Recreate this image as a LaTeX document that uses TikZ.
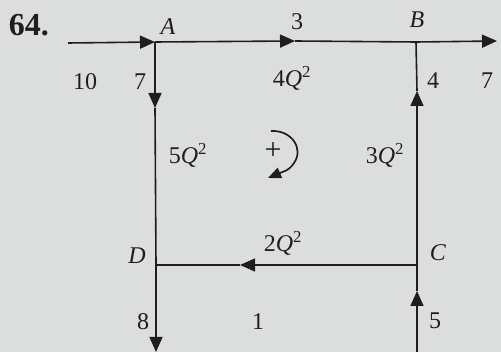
\documentclass[tikz,border=0pt]{standalone}
\usepackage{fontspec}
\setmainfont{Liberation Serif}
\usetikzlibrary{arrows.meta}
\definecolor{bg}{RGB}{220,222,222}
\definecolor{ink}{RGB}{30,30,30}
\begin{document}
\begin{tikzpicture}[x=1pt,y=-1pt,
  wire/.style={draw=ink,line width=1.6pt},
  tip/.style={-{Triangle[length=15pt,width=13pt]}},
  lab/.style={text=ink,font=\fontsize{24}{26}\selectfont,inner sep=0pt},
  letter/.style={lab,font=\fontsize{24}{26}\selectfont\itshape}]
\fill[bg] (0,0) rectangle (501,352);
\useasboundingbox (0,0) rectangle (501,352);
% junctions
\coordinate (A) at (155,42);
\coordinate (B) at (416,42);
\coordinate (C) at (417,265);
\coordinate (D) at (156,265);
\coordinate (in) at (68,43);
\coordinate (out) at (497,41);
\coordinate (bot) at (156,352);
\coordinate (botC) at (417,352);
% mid-arrow tips
\coordinate (mAB) at (295,41);
\coordinate (mAD) at (155,108);
\coordinate (mCB) at (417,91);
\coordinate (mCD) at (240,265);
\coordinate (mC) at (417,291);
% wires
\draw[wire,tip] (in) -- (A);
\draw[wire,tip] (A) -- (mAB);
\draw[wire] (mAB) -- (B);
\draw[wire,tip] (B) -- (out);
\draw[wire,tip] (A) -- (mAD);
\draw[wire] (mAD) -- (D);
\draw[wire,tip] (D) -- (bot);
\draw[wire,tip] (C) -- (mCB);
\draw[wire] (mCB) -- (B);
\draw[wire,tip] (C) -- (mCD);
\draw[wire] (mCD) -- (D);
\draw[wire,tip] (botC) -- (mC);
\draw[wire] (mC) -- (C);
% loop arrow
\coordinate (ls) at (271,131);
\coordinate (lm) at (294,163);
\coordinate (le) at (268,178);
\draw[draw=ink,line width=1.7pt,-{Triangle[length=13pt,width=11pt]}]
  (ls) .. controls (292,130) and (304,149) .. (lm)
       .. controls (289,171) and (282,172) .. (le);
\node[lab,font=\fontsize{30}{32}\selectfont] (plus) at (273,151) {+};
% labels
\node[lab,font=\fontsize{32}{34}\selectfont\bfseries] (num) at (29,25) {64.};
\node[letter] (lA) at (168,27) {A};
\node[letter] (lB) at (417,20) {B};
\node[letter] (lC) at (438,253) {C};
\node[letter] (lD) at (137,256) {D};
\node[lab] (n3) at (297,22) {3};
\node[lab] (n10) at (85,82) {10};
\node[lab] (n7a) at (140,82) {7};
\node[lab] (n4) at (433,81) {4};
\node[lab] (n7b) at (487,81) {7};
\node[lab] (n8) at (143,322) {8};
\node[lab] (n1) at (258,322) {1};
\node[lab] (n5) at (435,321) {5};
\node[lab] (q4) at (292,78) {4\textit{Q}$^{\mathrm{2}}$};
\node[lab] (q5) at (188,155) {5\textit{Q}$^{\mathrm{2}}$};
\node[lab] (q3) at (385,155) {3\textit{Q}$^{\mathrm{2}}$};
\node[lab] (q2) at (283,243) {2\textit{Q}$^{\mathrm{2}}$};
\end{tikzpicture}
\end{document}
